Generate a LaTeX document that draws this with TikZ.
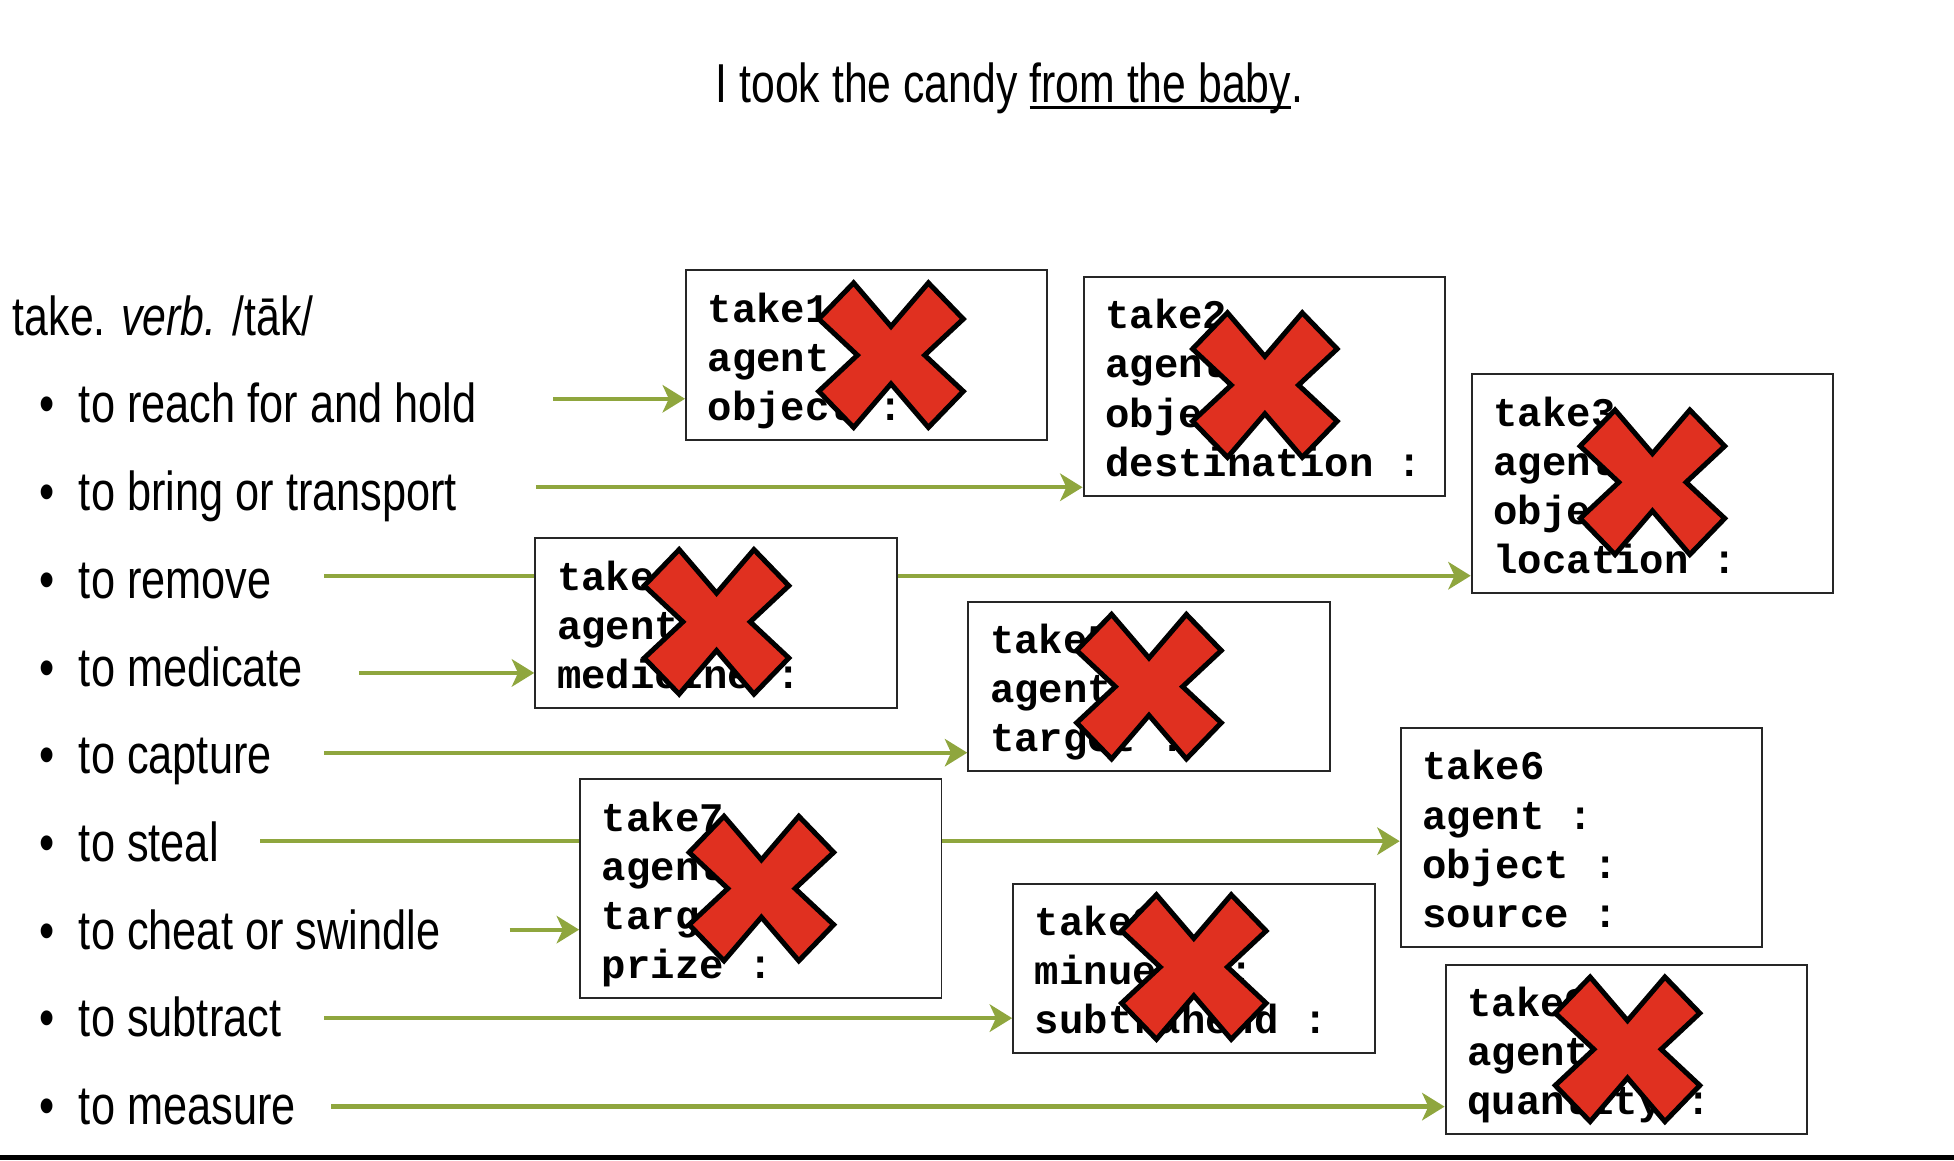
\documentclass[tikz,border=0pt]{standalone}
\usepackage{fontspec}
\usetikzlibrary{arrows.meta}
\newfontfamily\sensefont[FakeStretch=0.79]{Liberation Sans}
\newfontfamily\titlefont[FakeStretch=0.78]{Liberation Sans}
\newfontfamily\framefont{Liberation Mono}
\newcommand{\ruledtext}[1]{\setbox0=\hbox{#1}\rlap{\rule[-2.6pt]{\wd0}{1pt}}\box0}
\newcommand{\framestart}{\spaceskip=9.78pt\relax\leavevmode\vrule width 0pt height 16.5pt\relax}
\newcommand{\frameend}{\vrule width 0pt depth 3.5pt\relax}
\definecolor{linkgreen}{HTML}{8FA63E}
\definecolor{crossred}{HTML}{E03020}
\tikzset{
    sense/.style={anchor=base west,inner sep=0pt,font=\sensefont\fontsize{22}{26}\selectfont},
    headline/.style={anchor=base west,inner sep=0pt,font=\titlefont\fontsize{22}{26}\selectfont},
    framebox/.style={draw=black!85,fill=white,line width=.8pt,minimum width=145pt,inner xsep=8.75pt,inner ysep=0pt,
        text width=127.5pt,align=left,font=\framefont\bfseries\fontsize{16.3}{19.7}\selectfont,
        execute at begin node=\framestart,execute at end node=\frameend},
    linkline/.style={draw=linkgreen,line width=1.7pt},
    linkarrow/.style={linkline,-{Stealth[length=9pt,width=11pt,inset=2.5pt]}},
    crossmark/.style={draw=black,fill=crossred,line width=2pt,line join=miter}
}
\begin{document}
\begin{tikzpicture}[x=.5pt,y=-.5pt]
    \useasboundingbox (0,0) rectangle (1568,931);
    \fill[black] (0,927) rectangle (1568,931);
    \node[headline] (title) at (574,82) {I took the candy \ruledtext{from the baby}.};
    \node[headline] (head) at (10,269) {take. \textit{verb.} /tāk/};
    % senses, one row each
    \foreach \row/\rowy/\sensetext in {1/339/to reach for and hold,2/409.5/to bring or transport,3/480/to remove,
        4/550.5/to medicate,5/621/to capture,6/691/to steal,7/762/to cheat or swindle,8/832/to subtract,9/902/to measure}
    {
        \node[sense] (sense\row) at (31,\rowy) {\makebox[16pt][l]{\textbullet}\sensetext};
    }
    % frames
    \node[framebox,minimum height=68pt] (take1) at (695.5,285) {take1\\agent :\\object :};
    \node[framebox,minimum height=88pt] (take2) at (1014.5,310) {take2\\agent :\\object :\\destination :};
    \node[framebox,minimum height=88pt] (take3) at (1326,388) {take3\\agent :\\object :\\location :};
    \node[framebox,minimum height=68pt] (take4) at (574.5,500) {take4\\agent :\\medicine :};
    \node[framebox,minimum height=68pt] (take5) at (922,551) {take5\\agent :\\target :};
    \node[framebox,minimum height=88pt] (take6) at (1269,672) {take6\\agent :\\object :\\source :};
    \node[framebox,minimum height=88pt] (take7) at (610.5,713) {take7\\agent :\\target :\\prize :};
    \node[framebox,minimum height=68pt] (take8) at (958,777) {take8\\minuend :\\subtrahend :};
    \node[framebox,minimum height=68pt] (take9) at (1305,842) {take9\\agent :\\quantity :};
    % arrows start a little right of the senses
    \coordinate (from1) at (444,320);
    \coordinate (from2) at (430,391);
    \coordinate (from3) at (260,462);
    \coordinate (from4) at (288,540);
    \coordinate (from5) at (260,604);
    \coordinate (from6) at (209,675);
    \coordinate (from7) at (409,746);
    \coordinate (from8) at (260,817);
    \coordinate (from9) at (266,888);
    \draw[linkarrow] (from1) -- (from1 -| take1.west);
    \draw[linkarrow] (from2) -- (from2 -| take2.west);
    \draw[linkline] (from3) -- (from3 -| take4.west);
    \draw[linkarrow] (from3 -| take4.east) -- (from3 -| take3.west);
    \draw[linkarrow] (from4) -- (from4 -| take4.west);
    \draw[linkarrow] (from5) -- (from5 -| take5.west);
    \draw[linkline] (from6) -- (from6 -| take7.west);
    \draw[linkarrow] (from6 -| take7.east) -- (from6 -| take6.west);
    \draw[linkarrow] (from7) -- (from7 -| take7.west);
    \draw[linkarrow] (from8) -- (from8 -| take8.west);
    \draw[linkarrow] (from9) -- (from9 -| take9.west);
    % crosses over the frames
    \foreach \cx/\cy in {715/285,1015/309,1326/387,575/499,922/551,611/713,958/776,1306/842}
    {
        \draw[crossmark,shift={(\cx,\cy)}] (-30,-58) -- (0,-23) -- (30,-58) -- (58,-29) -- (27,0) -- (58,29) -- (30,58)
            -- (0,23) -- (-30,58) -- (-58,29) -- (-27,0) -- (-58,-29) -- cycle;
    }
\end{tikzpicture}
\end{document}
